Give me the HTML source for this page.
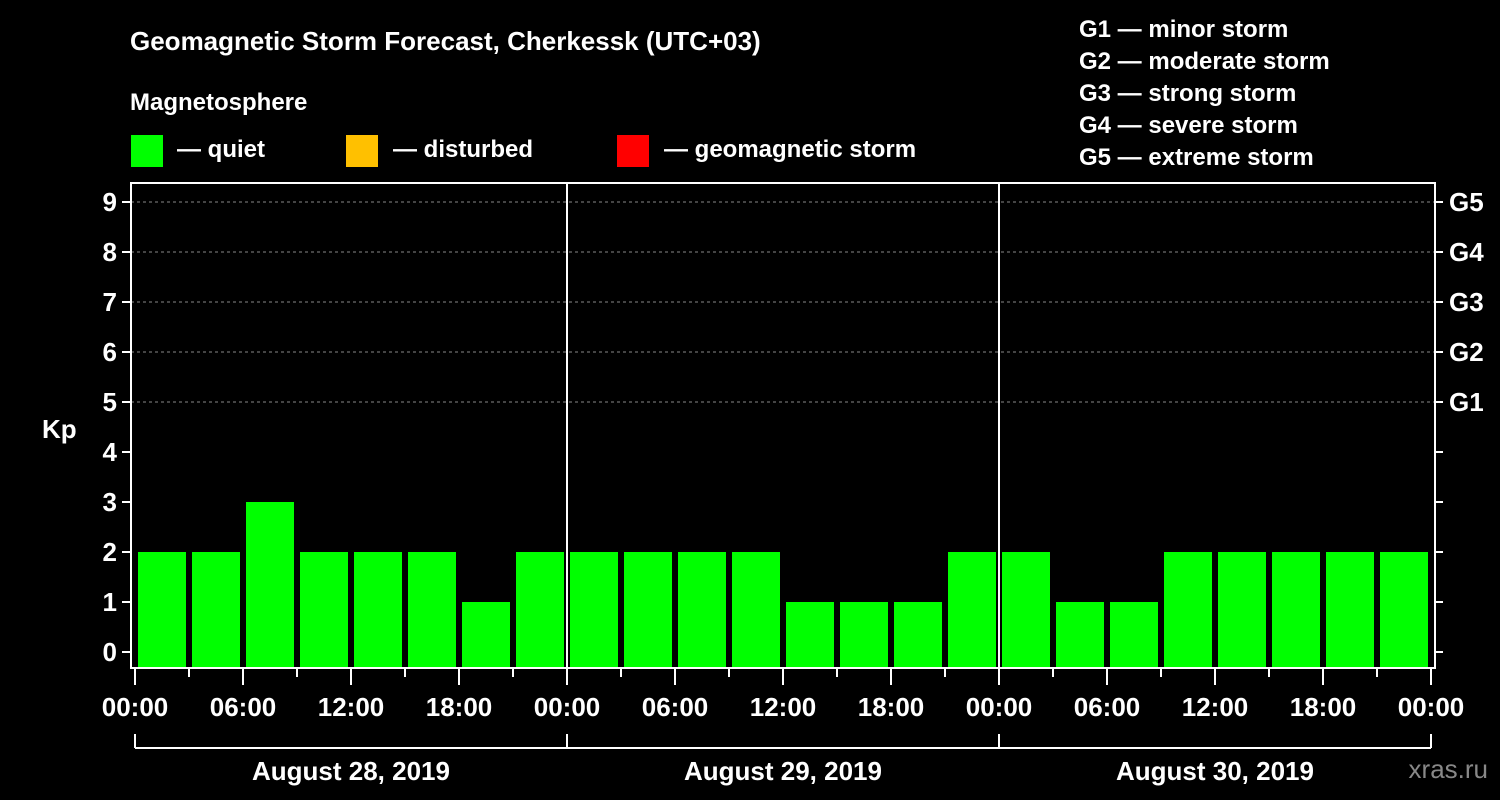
<!DOCTYPE html>
<html><head><meta charset="utf-8"><style>
html,body{margin:0;padding:0;background:#000;}
svg{display:block;font-family:"Liberation Sans",Arial,sans-serif;font-weight:bold;}
</style></head><body>
<svg id="c" width="1500" height="800" xmlns="http://www.w3.org/2000/svg">
<text x="130" y="50" fill="#fff" font-size="26">Geomagnetic Storm Forecast, Cherkessk (UTC+03)</text>
<text x="130" y="110" fill="#fff" font-size="24">Magnetosphere</text>
<g><rect x="131" y="135" width="32" height="32" fill="#00ff00"/><text x="177" y="157" fill="#fff" font-size="24">— quiet</text></g>
<g><rect x="346" y="135" width="32" height="32" fill="#ffc000"/><text x="393" y="157" fill="#fff" font-size="24">— disturbed</text></g>
<g><rect x="617" y="135" width="32" height="32" fill="#ff0000"/><text x="664" y="157" fill="#fff" font-size="24">— geomagnetic storm</text></g>
<g fill="#fff" font-size="24">
<text x="1079" y="37">G1 — minor storm</text>
<text x="1079" y="69">G2 — moderate storm</text>
<text x="1079" y="101">G3 — strong storm</text>
<text x="1079" y="133">G4 — severe storm</text>
<text x="1079" y="165">G5 — extreme storm</text>
</g>
<text x="42" y="438" fill="#fff" font-size="26">Kp</text>
<text x="1488" y="778" fill="#888" font-size="26" text-anchor="end" font-weight="normal">xras.ru</text>
<g id="grid"></g><g id="bars"></g><g id="axes"></g>
</svg>
<script>
const days = ["August 28, 2019","August 29, 2019","August 30, 2019"];
const hourLabels = ["00:00","06:00","12:00","18:00"];
const kpValues = [2,2,3,2,2,2,1,2, 2,2,2,2,1,1,1,2, 2,1,1,2,2,2,2,2];
const gLabels = ["G1","G2","G3","G4","G5"];
const NS="http://www.w3.org/2000/svg";
const X0=135, STEP=54, Y0=652, UNIT=50, BOTTOM=668, TOP=183, LEFT=131, RIGHT=1435;
const xs=i=>X0+i*STEP, ys=v=>Y0-v*UNIT;
function mk(p,t,a){const e=document.createElementNS(NS,t);for(const k in a)e.setAttribute(k,a[k]);p.appendChild(e);return e;}
const grid=document.getElementById('grid'),bars=document.getElementById('bars'),axes=document.getElementById('axes');
for(let k=5;k<=9;k++){const l=mk(grid,'line',{x1:LEFT,x2:RIGHT,y1:ys(k),y2:ys(k),stroke:'#888','stroke-dasharray':'3,3','stroke-width':1});

}
kpValues.forEach((v,i)=>{const r=mk(bars,'rect',{x:xs(i)+3,y:ys(v),width:STEP-6,height:BOTTOM-ys(v),fill:v>=5?'#ff0000':(v>=4?'#ffc000':'#00ff00')});

});
mk(axes,'rect',{x:LEFT,y:TOP,width:RIGHT-LEFT,height:BOTTOM-TOP,fill:'none',stroke:'#fff','stroke-width':2});
for(let d=1;d<days.length;d++){const l=mk(axes,'line',{x1:xs(d*8),x2:xs(d*8),y1:TOP,y2:BOTTOM,stroke:'#fff','stroke-width':2});

}
for(let k=0;k<=9;k++){
mk(axes,'line',{x1:LEFT-9,x2:LEFT,y1:ys(k),y2:ys(k),stroke:'#fff','stroke-width':2});
mk(axes,'line',{x1:RIGHT,x2:RIGHT+8,y1:ys(k),y2:ys(k),stroke:'#fff','stroke-width':2});
const t=mk(axes,'text',{x:LEFT-14,y:ys(k)+9,fill:'#fff','font-size':26,'text-anchor':'end'});t.textContent=k;


if(k>=5){const g=mk(axes,'text',{x:RIGHT+14,y:ys(k)+9,fill:'#fff','font-size':26});g.textContent=gLabels[k-5];

}}
for(let i=0;i<=kpValues.length;i++){const major=i%2===0;
mk(axes,'line',{x1:xs(i),x2:xs(i),y1:BOTTOM,y2:BOTTOM+(major?17:9),stroke:'#fff','stroke-width':2});
if(major){const t=mk(axes,'text',{x:xs(i),y:716,fill:'#fff','font-size':26,'text-anchor':'middle'});t.textContent=hourLabels[(i/2)%4];

}}
mk(axes,'line',{x1:xs(0),x2:xs(kpValues.length),y1:748,y2:748,stroke:'#fff','stroke-width':2});
days.forEach((d,j)=>{mk(axes,'line',{x1:xs(j*8),x2:xs(j*8),y1:734,y2:748,stroke:'#fff','stroke-width':2});
const t=mk(axes,'text',{x:xs(j*8+4),y:780,fill:'#fff','font-size':26,'text-anchor':'middle'});t.textContent=d;

});
mk(axes,'line',{x1:xs(24),x2:xs(24),y1:734,y2:748,stroke:'#fff','stroke-width':2});
</script>
</body></html>
